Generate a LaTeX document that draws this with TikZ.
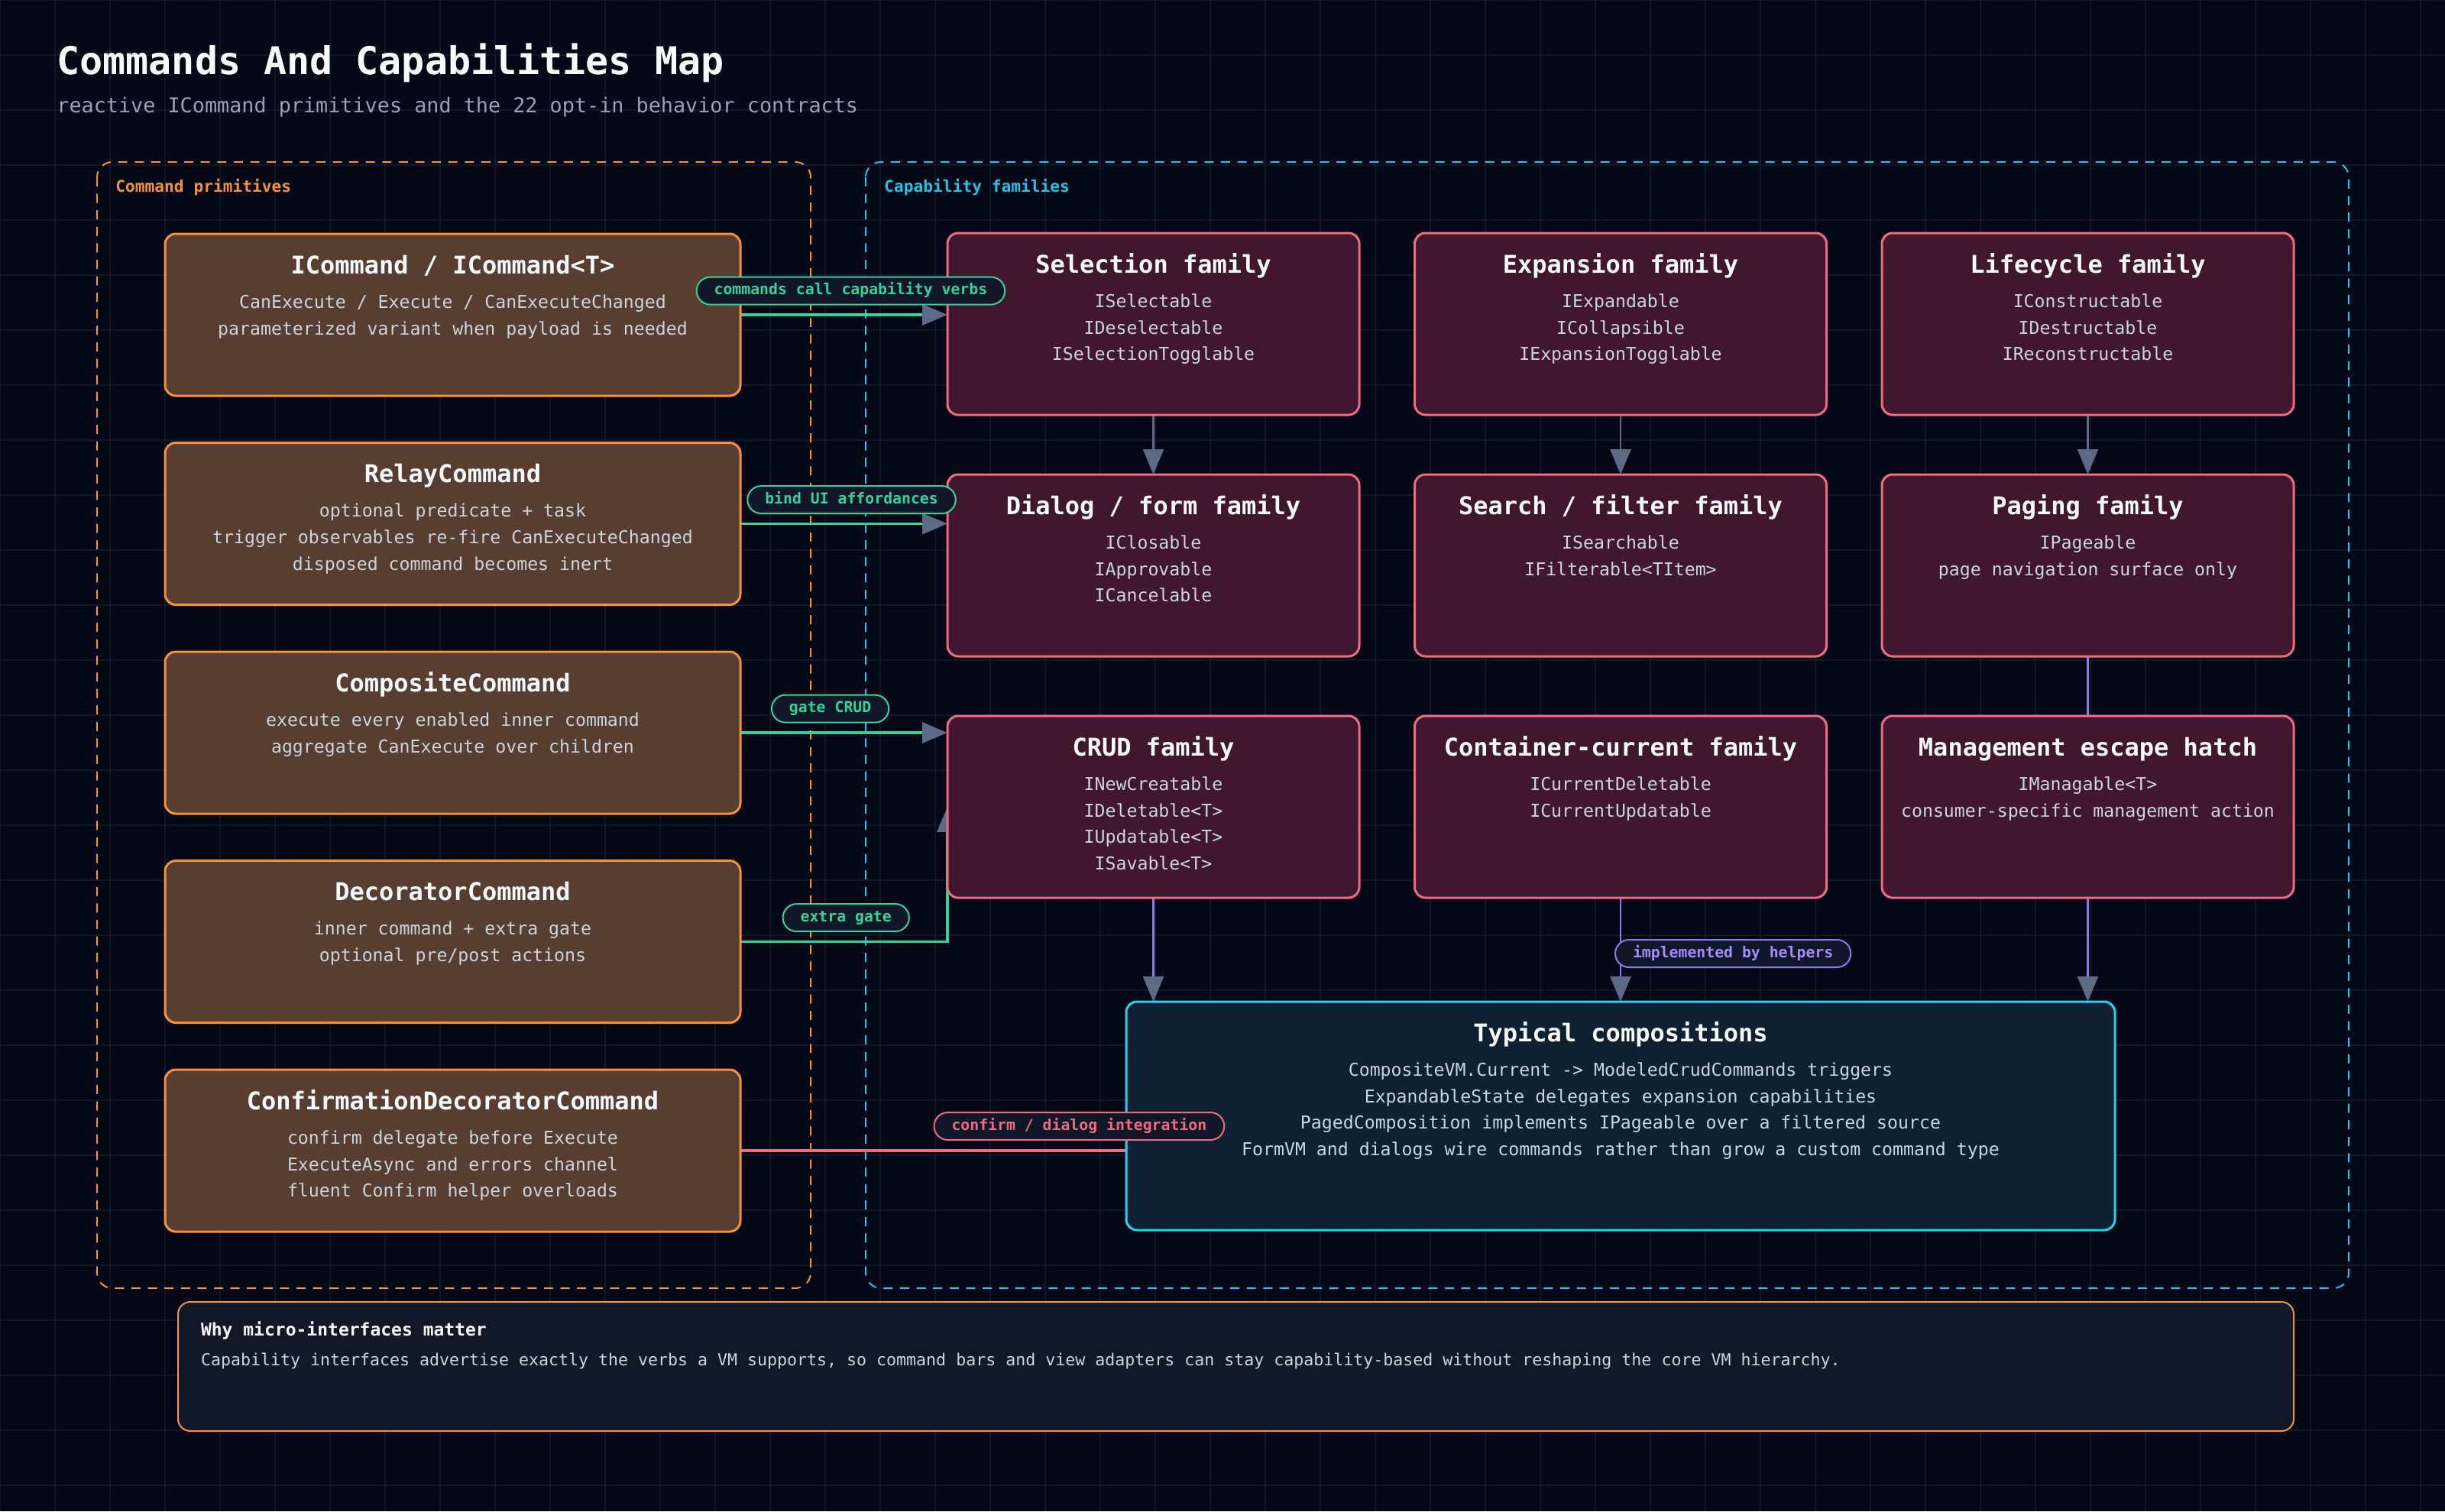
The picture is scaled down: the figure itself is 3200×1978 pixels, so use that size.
\documentclass[tikz,border=0pt]{standalone}
\usepackage{fontspec}
\setmainfont{DejaVu Sans Mono}
\usepackage{xcolor}
\usepackage{tikz}
\usetikzlibrary{positioning,arrows.meta}

\definecolor{pagebg}{HTML}{040716}
\definecolor{gridln}{HTML}{121827}
\definecolor{primfill}{HTML}{583E30}
\definecolor{primedge}{HTML}{F7903D}
\definecolor{capfill}{HTML}{411730}
\definecolor{capedge}{HTML}{F06A80}
\definecolor{compfill}{HTML}{0F2033}
\definecolor{compedge}{HTML}{22D3EE}
\definecolor{famcyan}{HTML}{22C3E6}
\definecolor{notefill}{HTML}{111827}
\definecolor{flowgreen}{HTML}{34D399}
\definecolor{implviolet}{HTML}{8C7AE6}
\definecolor{impltext}{HTML}{A78BFA}
\definecolor{tipgray}{HTML}{5B6B85}
\definecolor{pillfill}{HTML}{0F1729}
\definecolor{headwhite}{HTML}{F8FAFC}
\definecolor{bodygray}{HTML}{CBD5E1}
\definecolor{subgray}{HTML}{94A3B8}

\pgfdeclarelayer{bg}
\pgfdeclarelayer{edges}
\pgfsetlayers{bg,edges,main}

% card body: width, height, title, lines
\newcommand{\cardtext}[4]{%
  \parbox[c][#2][t]{#1}{\centering
    \rule{0pt}{26.2pt}{\fontsize{16pt}{19pt}\selectfont\bfseries\color{headwhite}#3}\par
    \vspace{5.15pt}
    {\fontsize{11.6pt}{17.35pt}\selectfont #4\par}}}

\begin{document}
\begin{tikzpicture}[x=0.5pt,y=-0.5pt,
  primbox/.style={draw=primedge,fill=primfill,line width=1.5pt,rounded corners=7pt,inner sep=0pt,outer sep=0pt,text=bodygray},
  capbox/.style={draw=capedge,fill=capfill,line width=1.5pt,rounded corners=7pt,inner sep=0pt,outer sep=0pt,text=bodygray},
  compbox/.style={draw=compedge,fill=compfill,line width=1.5pt,rounded corners=7pt,inner sep=0pt,outer sep=0pt,text=bodygray},
  notebox/.style={draw=primedge,fill=notefill,line width=1pt,rounded corners=8pt,inner xsep=15pt,inner ysep=0pt,outer sep=0pt,text=bodygray},
  groupframe/.style={line width=1pt,dash pattern=on 6pt off 4.8pt,rounded corners=10pt},
  pill/.style={fill=pillfill,line width=1pt,rounded corners=9pt,minimum height=18pt,inner xsep=11.5pt,inner ysep=0pt,
    text height=7.2pt,text depth=2pt,font=\fontsize{9.9pt}{12pt}\selectfont\bfseries},
  cmdflow/.style={draw=flowgreen,line width=1.8pt,-{Triangle[length=16.5pt,width=13.5pt,color=tipgray]}},
  famflow/.style={draw=tipgray,line width=1.3pt,-{Triangle[length=16.5pt,width=13.5pt,color=tipgray]}},
  implflow/.style={draw=implviolet,line width=1.3pt},
  confline/.style={draw=capedge,line width=1.8pt}]
  \useasboundingbox (0,0) rectangle (3200,1978);

  % backdrop, grid and the two group frames
  \begin{pgfonlayer}{bg}
    \fill[pagebg] (0,0) rectangle (3200,1978);
    \foreach \gx in {0,72,...,3200} \draw[gridln,line width=0.75pt] (\gx,0) -- (\gx,1978);
    \foreach \gy in {0,72,...,1978} \draw[gridln,line width=0.75pt] (0,\gy) -- (3200,\gy);
    \draw[groupframe,draw=primedge] (127,212) rectangle (1061,1686);
    \draw[groupframe,draw=famcyan] (1133,212) rectangle (3074,1686);
  \end{pgfonlayer}

  \node[anchor=base west,inner sep=0pt,text=headwhite,font=\fontsize{25pt}{30pt}\selectfont\bfseries] (title) at (74,97) {Commands And Capabilities Map};
  \node[anchor=base west,inner sep=0pt,text=subgray,font=\fontsize{13.4pt}{16pt}\selectfont] (subtitle) at (74,147) {reactive ICommand primitives and the 22 opt-in behavior contracts};
  \node[anchor=base west,inner sep=0pt,text=primedge,font=\fontsize{10.6pt}{12pt}\selectfont\bfseries] (primlbl) at (151,251) {Command primitives};
  \node[anchor=base west,inner sep=0pt,text=famcyan,font=\fontsize{10.6pt}{12pt}\selectfont\bfseries] (caplbl) at (1157,251) {Capability families};

  % Column 1: command primitives, top to bottom
  \node[primbox,anchor=north west] (icmd) at (216,306) {\cardtext{376.5pt}{106pt}{ICommand / ICommand<T>}{CanExecute / Execute / CanExecuteChanged\\parameterized variant when payload is needed}};
  \node[primbox,below=30.75pt of icmd] (relay) {\cardtext{376.5pt}{106pt}{RelayCommand}{optional predicate + task\\trigger observables re-fire CanExecuteChanged\\disposed command becomes inert}};
  \node[primbox,below=30.75pt of relay] (comp) {\cardtext{376.5pt}{106pt}{CompositeCommand}{execute every enabled inner command\\aggregate CanExecute over children}};
  \node[primbox,below=30.75pt of comp] (deco) {\cardtext{376.5pt}{106pt}{DecoratorCommand}{inner command + extra gate\\optional pre/post actions}};
  \node[primbox,below=30.75pt of deco] (conf) {\cardtext{376.5pt}{106pt}{ConfirmationDecoratorCommand}{confirm delegate before Execute\\ExecuteAsync and errors channel\\fluent Confirm helper overloads}};

  % Capability families: 3 x 3 grid
  \node[capbox,anchor=north west] (sel) at (1240,305) {\cardtext{269.5pt}{119pt}{Selection family}{ISelectable\\IDeselectable\\ISelectionTogglable}};
  \node[capbox,right=36.25pt of sel] (expn) {\cardtext{269.5pt}{119pt}{Expansion family}{IExpandable\\ICollapsible\\IExpansionTogglable}};
  \node[capbox,right=36.25pt of expn] (life) {\cardtext{269.5pt}{119pt}{Lifecycle family}{IConstructable\\IDestructable\\IReconstructable}};
  \node[capbox,below=39pt of sel] (dlg) {\cardtext{269.5pt}{119pt}{Dialog / form family}{IClosable\\IApprovable\\ICancelable}};
  \node[capbox,below=39pt of expn] (srch) {\cardtext{269.5pt}{119pt}{Search / filter family}{ISearchable\\IFilterable<TItem>}};
  \node[capbox,below=39pt of life] (page) {\cardtext{269.5pt}{119pt}{Paging family}{IPageable\\page navigation surface only}};
  \node[capbox,below=39pt of dlg] (crud) {\cardtext{269.5pt}{119pt}{CRUD family}{INewCreatable\\IDeletable<T>\\IUpdatable<T>\\ISavable<T>}};
  \node[capbox,below=39pt of srch] (cur) {\cardtext{269.5pt}{119pt}{Container-current family}{ICurrentDeletable\\ICurrentUpdatable}};
  \node[capbox,below=39pt of page] (mgmt) {\cardtext{269.5pt}{119pt}{Management escape hatch}{IManagable<T>\\consumer-specific management action}};

  \node[compbox,below=68pt of cur] (typ) {\cardtext{647pt}{149.5pt}{Typical compositions}{CompositeVM.Current -> ModeledCrudCommands triggers\\ExpandableState delegates expansion capabilities\\PagedComposition implements IPageable over a filtered source\\FormVM and dialogs wire commands rather than grow a custom command type}};

  \node[notebox,anchor=north west] (why) at (233,1704) {\parbox[c][84.5pt][t]{1354.5pt}{\raggedright
    \rule{0pt}{22pt}{\fontsize{11.5pt}{14pt}\selectfont\bfseries\color{headwhite}Why micro-interfaces matter}\par
    {\fontsize{10.8pt}{19.5pt}\selectfont Capability interfaces advertise exactly the verbs a VM supports, so command bars and view adapters can stay capability-based without reshaping the core VM hierarchy.\par}}};

  % connectors sit under the cards
  \begin{pgfonlayer}{edges}
    \draw[cmdflow] (icmd.east) -- (icmd.east -| sel.west) coordinate[pos=0.533] (m1);
    \draw[cmdflow] (relay.east) -- (relay.east -| dlg.west) coordinate[pos=0.537] (m2);
    \draw[cmdflow] (comp.east) -- (comp.east -| crud.west) coordinate[pos=0.434] (m3);
    \draw[cmdflow] (deco.east) -| (crud.west) coordinate[pos=0.255] (m4);
    \draw[confline] (conf.east) -- (conf.east -| typ.west) coordinate[pos=0.5] (m5);
    \draw[famflow] (sel) -- (dlg);
    \draw[famflow] (expn) -- (srch);
    \draw[famflow] (life) -- (page);
    \draw[implflow] (page) -- (mgmt);
    \draw[implflow,-{Triangle[length=16.5pt,width=13.5pt,color=tipgray]}] (crud.south) -- (crud.south |- typ.north);
    \draw[implflow,-{Triangle[length=16.5pt,width=13.5pt,color=tipgray]}] (cur) -- (typ) coordinate[pos=0.5] (m6);
    \draw[implflow,-{Triangle[length=16.5pt,width=13.5pt,color=tipgray]}] (mgmt.south) -- (mgmt.south |- typ.north);
  \end{pgfonlayer}

  % edge labels
  \node[pill,draw=flowgreen,text=flowgreen,above=6.2pt of m1] (verbslbl) {commands call capability verbs};
  \node[pill,draw=flowgreen,text=flowgreen,above=6.2pt of m2] (bindlbl) {bind UI affordances};
  \node[pill,draw=flowgreen,text=flowgreen,above=6.2pt of m3] (gatelbl) {gate CRUD};
  \node[pill,draw=flowgreen,text=flowgreen,above=6.2pt of m4] (extralbl) {extra gate};
  \node[pill,draw=capedge,text=capedge,above right=6.5pt and 0pt of m5] (conflbl) {confirm / dialog integration};
  \node[pill,draw=implviolet,text=impltext,right=-4pt of m6,yshift=-2.5pt] (helperlbl) {implemented by helpers};
\end{tikzpicture}
\end{document}
